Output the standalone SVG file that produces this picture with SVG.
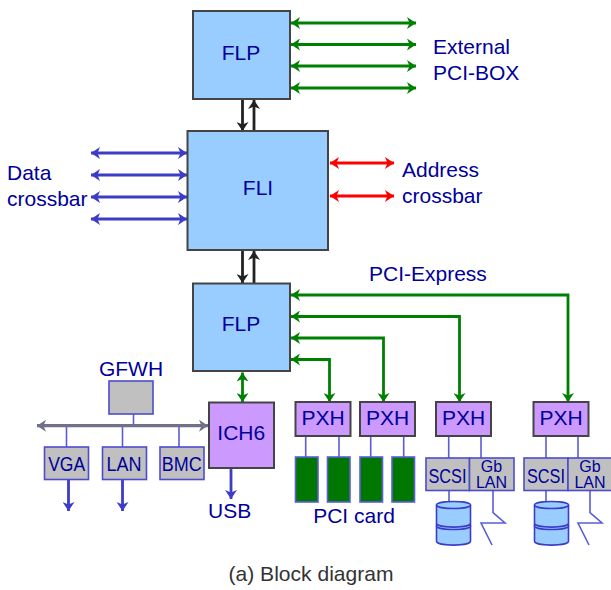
<svg xmlns="http://www.w3.org/2000/svg" width="611" height="590" viewBox="0 0 611 590">
<style>
text{font-family:"Liberation Sans",Arial,sans-serif;fill:#000099;font-size:21px}
.m{text-anchor:middle}
.s{font-size:20px}
.t{font-size:16px}
.b{fill:#99ccff;stroke:#444;stroke-width:2}
.p{fill:#cc99ff;stroke:#444;stroke-width:2}
.g{fill:#c0c0c0;stroke:#4c4ccc;stroke-width:1.6}
.c{fill:#007700;stroke:#5c5cdc;stroke-width:1.6}
.l{fill:none;stroke:#5c5cd8;stroke-width:1.6}
.d{fill:#99ccff;stroke:#3c3cc8;stroke-width:1.6}
.gd{fill:none;stroke:#008000;stroke-width:2.8;marker-start:url(#ags);marker-end:url(#ag)}
.bl{fill:none;stroke:#3c3cc8;stroke-width:2.8;marker-start:url(#abs);marker-end:url(#ab)}
.bs{fill:none;stroke:#3c3cc8;stroke-width:2.8;marker-end:url(#ab)}
.r{fill:none;stroke:#ff0000;stroke-width:2.8;marker-start:url(#ars);marker-end:url(#ar)}
.k{fill:none;stroke:#222;stroke-width:2.8;marker-end:url(#ak)}
.y{fill:none;stroke:#707088;stroke-width:3.2;marker-start:url(#ays);marker-end:url(#ay)}
</style>
<defs>
<marker id="ag" markerUnits="userSpaceOnUse" markerWidth="10" markerHeight="12" refX="9" refY="6" orient="auto"><path d="M0 0L9 6L0 12L2.500 6Z" fill="#008000"/></marker>
<marker id="ags" markerUnits="userSpaceOnUse" markerWidth="10" markerHeight="12" refX="1" refY="6" orient="auto"><path d="M10 0L1 6L10 12L7.500 6Z" fill="#008000"/></marker>
<marker id="ab" markerUnits="userSpaceOnUse" markerWidth="10" markerHeight="12" refX="9" refY="6" orient="auto"><path d="M0 0L9 6L0 12L2.500 6Z" fill="#3c3cc8"/></marker>
<marker id="abs" markerUnits="userSpaceOnUse" markerWidth="10" markerHeight="12" refX="1" refY="6" orient="auto"><path d="M10 0L1 6L10 12L7.500 6Z" fill="#3c3cc8"/></marker>
<marker id="ar" markerUnits="userSpaceOnUse" markerWidth="10" markerHeight="12" refX="9" refY="6" orient="auto"><path d="M0 0L9 6L0 12L2.500 6Z" fill="#ff0000"/></marker>
<marker id="ars" markerUnits="userSpaceOnUse" markerWidth="10" markerHeight="12" refX="1" refY="6" orient="auto"><path d="M10 0L1 6L10 12L7.500 6Z" fill="#ff0000"/></marker>
<marker id="ak" markerUnits="userSpaceOnUse" markerWidth="10" markerHeight="12" refX="9" refY="6" orient="auto"><path d="M0 0L9 6L0 12L2.500 6Z" fill="#222"/></marker>
<marker id="ay" markerUnits="userSpaceOnUse" markerWidth="10" markerHeight="12" refX="9" refY="6" orient="auto"><path d="M0 0L9 6L0 12L2.500 6Z" fill="#707088"/></marker>
<marker id="ays" markerUnits="userSpaceOnUse" markerWidth="10" markerHeight="12" refX="1" refY="6" orient="auto"><path d="M10 0L1 6L10 12L7.500 6Z" fill="#707088"/></marker>
</defs>
<g id="connectors">
<path class="gd" d="M291 23H416"/><path class="gd" d="M291 44.500H416"/><path class="gd" d="M291 66H416"/><path class="gd" d="M291 88H416"/>
<path class="k" d="M242.500 99V131"/><path class="k" d="M254 131V100"/>
<path class="k" d="M242.500 250V283"/><path class="k" d="M254 283V251"/>
<path class="bl" d="M91 153H187"/><path class="bl" d="M91 175H187"/><path class="bl" d="M91 197H187"/><path class="bl" d="M91 219H187"/>
<path class="r" d="M330 163H394"/><path class="r" d="M330 196H394"/>
<path class="gd" d="M568 402V295H291"/><path class="gd" d="M459.500 402V316.500H291"/><path class="gd" d="M383.500 402V338H291"/><path class="gd" d="M329.500 402V359.500H291"/>
<path class="gd" d="M242.500 372.500V402"/>
<path class="l" d="M133.500 414V426M66.500 426V447M122.500 426V447M179 426V447"/>
<path class="y" d="M37 425.700H208"/>
<path class="bs" d="M68.500 480V511"/><path class="bs" d="M122.500 480V511"/><path class="bs" d="M231 468V499"/>
<path class="l" d="M305.700 436V457M339 436V457M370.700 436V457M403.700 436V457M448.700 436V458M481 436V458M546 436V458M578 436V458M449 490.500V502M546 490.500V502"/>
<path class="l" d="M493 490.500V512.700L505 523H481L492 545"/>
<path class="l" d="M590 490.500V512.700L602 523H578L589 545"/>
</g>
<g id="flp-top"><rect class="b" x="193" y="11" width="97" height="88"/><text class="m" x="241" y="60">FLP</text></g>
<g id="fli"><rect class="b" x="187.500" y="131" width="140.500" height="119"/><text class="m" x="258" y="195">FLI</text></g>
<g id="flp-bottom"><rect class="b" x="193" y="283.500" width="97" height="87.500"/><text class="m" x="241" y="331">FLP</text></g>
<g id="gfwh"><rect class="g" x="109" y="381" width="44" height="33"/><text class="m" x="131" y="376">GFWH</text></g>
<g id="vga"><rect class="g" x="44.500" y="447" width="44" height="32.500"/><text class="m s" x="66.700" y="471" textLength="37" lengthAdjust="spacingAndGlyphs">VGA</text></g>
<g id="lan"><rect class="g" x="102.500" y="447" width="44" height="32.500"/><text class="m s" x="124" y="471" textLength="35" lengthAdjust="spacingAndGlyphs">LAN</text></g>
<g id="bmc"><rect class="g" x="160" y="447" width="44" height="32.500"/><text class="m s" x="181.700" y="471" textLength="40" lengthAdjust="spacingAndGlyphs">BMC</text></g>
<g id="ich6"><rect class="p" x="209" y="402.500" width="65" height="65.500"/><text class="m" x="241.300" y="440">ICH6</text></g>
<g id="pxh1"><rect class="p" x="295.500" y="402" width="55" height="34"/><text class="m" x="323" y="424.500">PXH</text></g>
<g id="pxh2"><rect class="p" x="360" y="402" width="55" height="34"/><text class="m" x="387.500" y="424.500">PXH</text></g>
<g id="pxh3"><rect class="p" x="436" y="402" width="55" height="34"/><text class="m" x="463.500" y="424.500">PXH</text></g>
<g id="pxh4"><rect class="p" x="533.500" y="402" width="55" height="34"/><text class="m" x="561" y="424.500">PXH</text></g>
<g id="card1"><rect class="c" x="295.500" y="457" width="22.500" height="45"/></g>
<g id="card2"><rect class="c" x="327.500" y="457" width="22.500" height="45"/></g>
<g id="card3"><rect class="c" x="360" y="457" width="22.500" height="45"/></g>
<g id="card4"><rect class="c" x="392" y="457" width="22.500" height="45"/></g>
<g id="scsi1"><rect class="g" x="426" y="458" width="43.500" height="32.500"/><text class="m s" x="447.500" y="483" textLength="38" lengthAdjust="spacingAndGlyphs">SCSI</text></g>
<g id="gblan1"><rect class="g" x="469.500" y="458" width="44.500" height="32.500"/><text class="m t" x="491.500" y="471.500">Gb</text><text class="m t" x="491.500" y="488">LAN</text></g>
<g id="scsi2"><rect class="g" x="524" y="458" width="44" height="32.500"/><text class="m s" x="546" y="483" textLength="38" lengthAdjust="spacingAndGlyphs">SCSI</text></g>
<g id="gblan2"><rect class="g" x="568" y="458" width="44" height="32.500"/><text class="m t" x="590" y="471.500">Gb</text><text class="m t" x="590" y="488">LAN</text></g>
<g id="disk1"><path class="d" d="M436.500 523.500V541C436.500 546.500 470.500 546.500 470.500 541V523.500"/><ellipse class="d" cx="453.500" cy="526" rx="17" ry="3.500"/><path class="d" d="M436.500 505V523C436.500 528.500 470.500 528.500 470.500 523V505"/><ellipse class="d" cx="453.500" cy="505" rx="17" ry="3.500"/></g>
<g id="disk2"><path class="d" d="M534.500 523.500V541C534.500 546.500 568.500 546.500 568.500 541V523.500"/><ellipse class="d" cx="551.500" cy="526" rx="17" ry="3.500"/><path class="d" d="M534.500 505V523C534.500 528.500 568.500 528.500 568.500 523V505"/><ellipse class="d" cx="551.500" cy="505" rx="17" ry="3.500"/></g>
<g id="labels">
<text x="433" y="54">External</text><text x="433" y="80">PCI-BOX</text>
<text x="7" y="180">Data</text><text x="7" y="206">crossbar</text>
<text x="402" y="177">Address</text><text x="402" y="203">crossbar</text>
<text x="369" y="281">PCI-Express</text>
<text x="208" y="518">USB</text>
<text class="m" x="354" y="523">PCI card</text>
<text class="m" x="311" y="581" style="fill:#333" textLength="165" lengthAdjust="spacingAndGlyphs">(a) Block diagram</text>
</g>
</svg>
